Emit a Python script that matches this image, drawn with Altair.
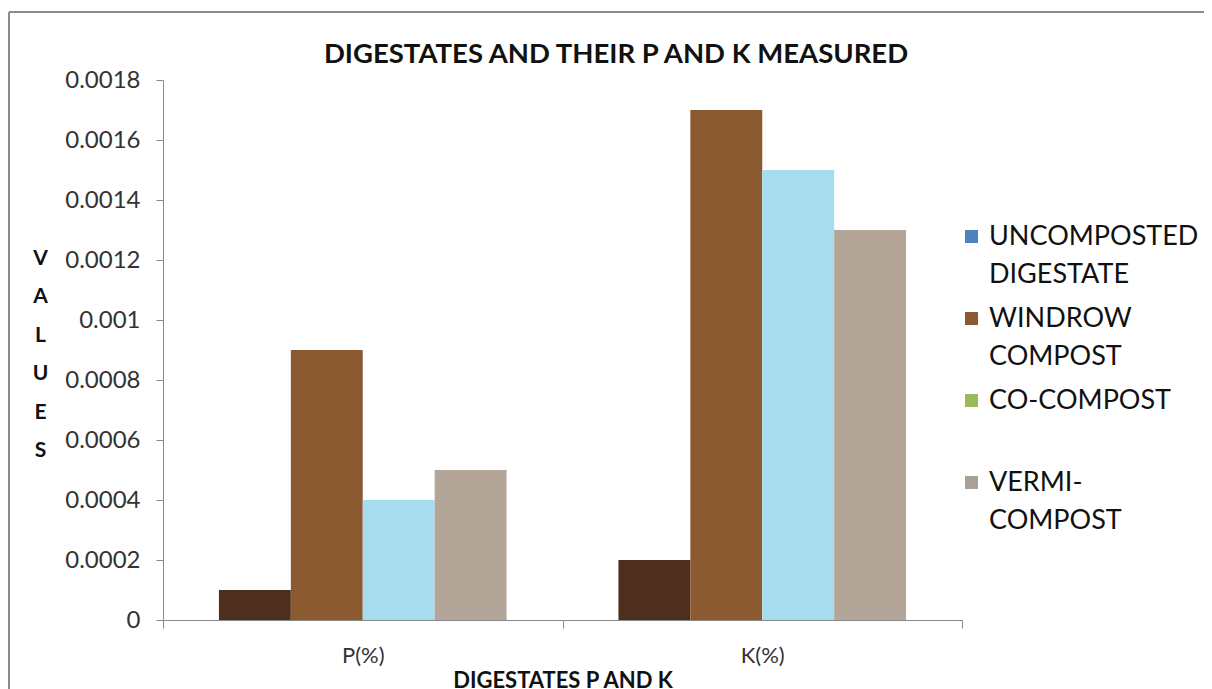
import altair as alt
import pandas as pd

chart_title = "DIGESTATES AND THEIR P AND K MEASURED"
categories = ["P(%)", "K(%)"]
series = ["UNCOMPOSTED DIGESTATE", "WINDROW COMPOST", "CO-COMPOST", "VERMI-COMPOST"]
p_values = [0.0001, 0.0009, 0.0004, 0.0005]
k_values = [0.0002, 0.0017, 0.0015, 0.0013]
y_ticks = [0, 0.0002, 0.0004, 0.0006, 0.0008, 0.001, 0.0012, 0.0014, 0.0016, 0.0018]

bar_colors = ["#4e2f1d", "#8c5a30", "#a6dcee", "#b3a597"]
legend_colors = ["#4f81bd", "#8b5a34", "#9bbb59", "#aaa196"]

rows = []
for s, pv, kv in zip(series, p_values, k_values):
    rows.append({"cat": "P(%)", "series": s, "value": pv})
    rows.append({"cat": "K(%)", "series": s, "value": kv})
df = pd.DataFrame(rows)

FONT = "Lato"
W, H = 799, 540

label_expr = (
    "datum.label == 'UNCOMPOSTED DIGESTATE' ? ['UNCOMPOSTED', 'DIGESTATE'] : "
    "datum.label == 'WINDROW COMPOST' ? ['WINDROW', 'COMPOST'] : "
    "datum.label == 'VERMI-COMPOST' ? ['VERMI-', 'COMPOST'] : [datum.label, ' ']"
)

x_enc = alt.X(
    "cat:N",
    sort=categories,
    scale=alt.Scale(paddingInner=0, paddingOuter=0),
    axis=alt.Axis(
        title="DIGESTATES P AND K",
        labelAngle=0,
        tickBand="extent",
        tickSize=8,
        labelPadding=17,
        labelFontSize=22,
        labelColor="#333333",
        titleFontSize=22,
        titleFontWeight="bold",
        titlePadding=4,
        titleColor="#111111",
        domainColor="#898989",
        tickColor="#898989",
    ),
)

bars = alt.Chart(df).mark_bar().encode(
    x=x_enc,
    xOffset=alt.XOffset(
        "series:N",
        sort=series,
        scale=alt.Scale(paddingInner=0, paddingOuter=0.778),
    ),
    y=alt.Y(
        "value:Q",
        scale=alt.Scale(domain=[0, 0.0018], nice=False),
        axis=alt.Axis(
            values=y_ticks,
            format="~g",
            grid=False,
            tickSize=7,
            labelPadding=16,
            labelFontSize=24,
            labelColor="#333333",
            domainColor="#898989",
            tickColor="#898989",
            title=["V", "A", "L", "U", "E", "S"],
            titleAngle=0,
            titleFontSize=21,
            titleFontWeight="bold",
            titleLineHeight=38.5,
            titleAlign="center",
            titleBaseline="middle",
            titleX=-123,
            titleY=178,
            titleColor="#111111",
        ),
    ),
    fill=alt.Fill("series:N", sort=series,
                  scale=alt.Scale(domain=series, range=bar_colors), legend=None),
)

legend_layer = alt.Chart(df).mark_square(opacity=0, size=1).encode(
    x=alt.X("cat:N", sort=categories),
    y=alt.Y("value:Q"),
    color=alt.Color(
        "series:N",
        sort=series,
        scale=alt.Scale(domain=series, range=legend_colors),
        legend=alt.Legend(
            title=None,
            orient="none",
            legendX=W - 4,
            legendY=143,
            symbolType="square",
            symbolSize=169,
            symbolOpacity=1,
            symbolStrokeWidth=0,
            labelFontSize=27,
            labelFont=FONT,
            labelColor="#111111",
            labelLimit=400,
            labelOffset=4,
            labelBaseline="middle",
            rowPadding=16,
            labelExpr=label_expr,
            padding=0,
        ),
    ),
)

frame_left = alt.Chart(df).mark_rule(color="#8c8c8c", strokeWidth=2).encode(
    x=alt.value(-154), y=alt.value(-68), y2=alt.value(H + 120)
)
frame_top = alt.Chart(df).mark_rule(color="#8c8c8c", strokeWidth=2).encode(
    x=alt.value(-154), x2=alt.value(1060), y=alt.value(-68)
)

title_layer = alt.Chart(pd.DataFrame({"t": [chart_title]})).mark_text(
    font=FONT, fontSize=27.5, fontWeight="bold", color="#111111",
    align="center", baseline="middle",
).encode(text="t:N", x=alt.value(453), y=alt.value(-25))

chart = (
    alt.layer(frame_left, frame_top, title_layer, bars, legend_layer)
    .resolve_scale(color="independent")
    .properties(
        width=W,
        height=H,
        autosize=alt.AutoSizeParams(type="none"),
        padding={"left": 155, "top": 72, "right": 242, "bottom": 69},
    )
    .configure(font=FONT, style={"guide-label": {"lineHeight": 38}})
    .configure_view(stroke=None)
    .configure_axis(labelFont=FONT, titleFont=FONT)
)

chart.save("out.html", embed_options={"renderer": "svg", "actions": False})
